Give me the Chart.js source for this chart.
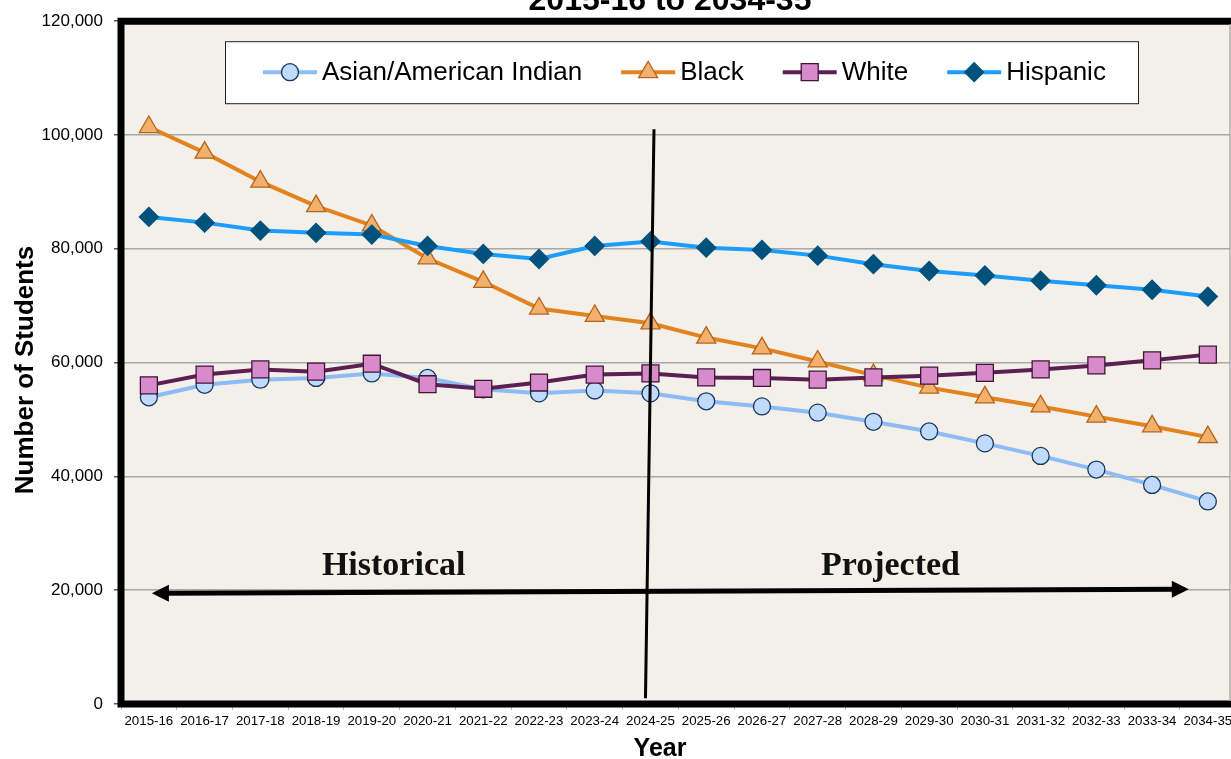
<!DOCTYPE html>
<html>
<head>
<meta charset="utf-8">
<script src="https://cdn.jsdelivr.net/npm/chart.js@4.4.1/dist/chart.umd.min.js"></script>
<style>
  html, body { margin: 0; padding: 0; background: #fff; overflow: hidden; }
  #wrap { width: 1249px; height: 759px; position: relative; }
</style>
</head>
<body>
<div id="wrap"><canvas id="enrollChart"></canvas></div>
<script>
// school years on the x axis
const years = ['2015-16', '2016-17', '2017-18', '2018-19', '2019-20', '2020-21', '2021-22',
  '2022-23', '2023-24', '2024-25', '2025-26', '2026-27', '2027-28', '2028-29', '2029-30',
  '2030-31', '2031-32', '2032-33', '2033-34', '2034-35'];

// enrollment by group
const asianAmIndian = [53900, 56100, 57000, 57300, 58100, 57300, 55300, 54600, 55100, 54600,
  53200, 52300, 51200, 49600, 47900, 45800, 43600, 41200, 38500, 35600];
const black = [101400, 96900, 91800, 87500, 84100, 78300, 74200, 69500, 68200, 66900,
  64400, 62500, 60200, 57800, 55600, 53900, 52300, 50500, 48800, 46900];
const white = [56000, 57900, 58800, 58400, 59800, 56200, 55400, 56500, 57900, 58100,
  57400, 57300, 57000, 57400, 57700, 58200, 58800, 59500, 60400, 61400];
const hispanic = [85600, 84600, 83200, 82800, 82500, 80500, 79100, 78200, 80500, 81300,
  80200, 79800, 78800, 77300, 76100, 75300, 74400, 73600, 72800, 71600];

const yTicks = [0, 20000, 40000, 60000, 80000, 100000, 120000];

const plotBg = '#F3F0EA';

// everything Excel drew on top of / around the plot
const decorations = {
  id: 'decorations',
  beforeDraw(chart) {
    const { ctx, chartArea: a } = chart;
    ctx.save();
    ctx.fillStyle = plotBg;
    ctx.fillRect(a.left, a.top, a.right - a.left, a.bottom - a.top);
    ctx.restore();
  },
  afterDatasetsDraw(chart) {
    const { ctx, chartArea: a, scales } = chart;
    const xs = scales.x, ys = scales.y;
    ctx.save();

    // thick frame: left, top, bottom
    ctx.strokeStyle = '#000';
    ctx.lineWidth = 7;
    ctx.beginPath();
    ctx.moveTo(a.right + 10, a.top);
    ctx.lineTo(a.left, a.top);
    ctx.lineTo(a.left, a.bottom);
    ctx.lineTo(a.right + 10, a.bottom);
    ctx.stroke();
    ctx.lineWidth = 1.5;
    ctx.strokeStyle = '#AFAFAF';
    ctx.beginPath();
    ctx.moveTo(1230, a.top + 3);
    ctx.lineTo(1230, a.bottom - 3);
    ctx.stroke();

    // divider between historical and projected
    const xd = xs.getPixelForValue(9);
    ctx.strokeStyle = '#000';
    ctx.lineWidth = 3;
    ctx.beginPath();
    ctx.moveTo(xd + 3.5, ys.getPixelForValue(101000));
    ctx.lineTo(xd - 5, ys.getPixelForValue(1000));
    ctx.stroke();

    // double-headed arrow
    const x0 = xs.getPixelForValue(0) + 3;
    const x1 = xs.getPixelForValue(19) - 19;
    const yMid = ys.getPixelForValue(20000);
    const y0 = yMid + 3, y1 = yMid - 1;
    ctx.lineWidth = 5;
    ctx.beginPath();
    ctx.moveTo(x0 + 12, y0);
    ctx.lineTo(x1 - 12, y1);
    ctx.stroke();
    ctx.fillStyle = '#000';
    ctx.beginPath();
    ctx.moveTo(x0, y0);
    ctx.lineTo(x0 + 17, y0 - 8.5);
    ctx.lineTo(x0 + 17, y0 + 8.5);
    ctx.closePath();
    ctx.fill();
    ctx.beginPath();
    ctx.moveTo(x1, y1);
    ctx.lineTo(x1 - 17, y1 - 8.5);
    ctx.lineTo(x1 - 17, y1 + 8.5);
    ctx.closePath();
    ctx.fill();

    // Historical / Projected labels
    ctx.font = 'bold 34px "Liberation Serif", serif';
    ctx.textAlign = 'center';
    ctx.textBaseline = 'alphabetic';
    ctx.fillStyle = '#111';
    ctx.fillText('Historical', (xs.getPixelForValue(4) + xs.getPixelForValue(5)) / 2 - 6, yMid - 15);
    ctx.fillText('Projected', xs.getPixelForValue(13) + 17, yMid - 15);

    // legend box
    const bx = a.left + 104, by = a.top + 20, bw = 913, bh = 62;
    ctx.fillStyle = '#fff';
    ctx.fillRect(bx, by, bw, bh);
    ctx.strokeStyle = '#222';
    ctx.lineWidth = 1;
    ctx.strokeRect(bx + 0.5, by + 0.5, bw, bh);

    ctx.font = '26px "Liberation Sans", Arial, sans-serif';
    ctx.textAlign = 'left';
    ctx.textBaseline = 'middle';
    let lx = bx + 38;
    const ly = by + bh / 2;
    chart.data.datasets.forEach(ds => {
      ctx.strokeStyle = ds.borderColor;
      ctx.lineWidth = ds.borderWidth;
      ctx.beginPath();
      ctx.moveTo(lx, ly);
      ctx.lineTo(lx + 54, ly);
      ctx.stroke();
      ctx.fillStyle = ds.pointBackgroundColor;
      ctx.strokeStyle = ds.pointBorderColor;
      ctx.lineWidth = ds.pointBorderWidth;
      Chart.helpers.drawPoint(ctx, {
        pointStyle: ds.pointStyle,
        radius: ds.pointRadius,
        rotation: 0,
        borderWidth: ds.pointBorderWidth
      }, lx + 27, ly);
      ctx.fillStyle = '#000';
      ctx.fillText(ds.label, lx + 59, ly + 1);
      lx += 59 + ctx.measureText(ds.label).width + 39;
    });

    ctx.restore();
  },
  afterDraw(chart) {
    const { ctx } = chart;
    ctx.save();
    ctx.fillStyle = '#000';
    ctx.textAlign = 'center';
    ctx.textBaseline = 'alphabetic';
    // chart title, mostly cut off by the top edge
    ctx.font = 'bold 32px "Liberation Sans", Arial, sans-serif';
    ctx.fillText('2015-16 to 2034-35', 670, 10);
    // axis titles
    ctx.font = 'bold 25px "Liberation Sans", Arial, sans-serif';
    ctx.fillText('Year', 660, 756);
    ctx.translate(33, 370);
    ctx.rotate(-Math.PI / 2);
    ctx.font = 'bold 26px "Liberation Sans", Arial, sans-serif';
    ctx.fillText('Number of Students', 0, 0);
    ctx.restore();
  }
};

function series(label, data, line, fill, edge, style, radius, order) {
  return {
    label: label,
    data: data,
    borderColor: line,
    borderWidth: 4,
    pointStyle: style,
    pointRadius: radius,
    pointHoverRadius: radius,
    pointBackgroundColor: fill,
    pointBorderColor: edge,
    pointBorderWidth: 1.3,
    tension: 0,
    fill: false,
    order: order
  };
}

new Chart(document.getElementById('enrollChart'), {
  type: 'line',
  data: {
    labels: years,
    datasets: [
      series('Asian/American Indian', asianAmIndian, '#8DBBF5', '#BFDAFA', '#17375E', 'circle', 8.5, 4),
      series('Black', black, '#E2831F', '#F1B06C', '#B4631C', 'triangle', 11, 3),
      series('White', white, '#5C1F52', '#D78BCB', '#3F1537', 'rect', 12, 2),
      series('Hispanic', hispanic, '#1D9DFB', '#00527C', '#00527C', 'rectRot', 9.5, 1)
    ]
  },
  options: {
    responsive: true,
    maintainAspectRatio: false,
    animation: false,
    events: [],
    layout: { padding: { top: 20, left: 0, right: 0, bottom: 0 } },
    plugins: {
      legend: { display: false },
      tooltip: { enabled: false },
      title: { display: false }
    },
    scales: {
      x: {
        offset: true,
        afterFit(scale) { scale.height = 55; },
        border: { display: false },
        grid: { drawOnChartArea: false, drawTicks: true, tickLength: 6, color: '#B5B5B5', offset: true },
        ticks: {
          autoSkip: false,
          maxRotation: 0,
          minRotation: 0,
          padding: 3,
          color: '#000',
          font: { family: '"Liberation Sans", Arial, sans-serif', size: 13.3 }
        }
      },
      y: {
        min: 0,
        max: 120000,
        afterFit(scale) { scale.width = 121; },
        afterBuildTicks(scale) { scale.ticks = yTicks.map(v => ({ value: v })); },
        border: { display: false },
        grid: { color: '#A8A8A8', lineWidth: 1.5, tickLength: 7, tickColor: '#555' },
        ticks: {
          padding: 11,
          color: '#000',
          font: { family: '"Liberation Sans", Arial, sans-serif', size: 17 },
          callback: v => v.toLocaleString('en-US')
        }
      }
    }
  },
  plugins: [decorations]
});
</script>
</body>
</html>
